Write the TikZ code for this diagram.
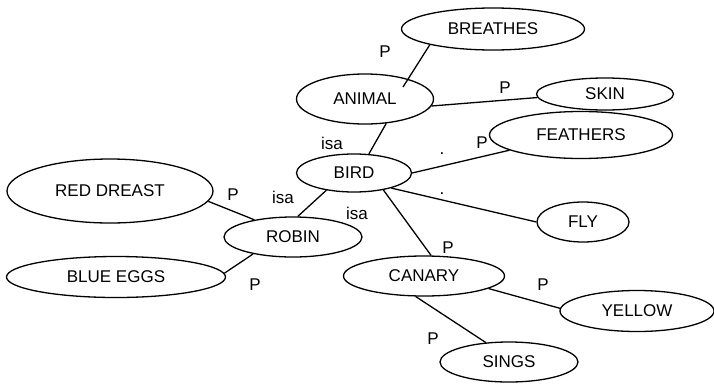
\documentclass[tikz,border=0pt]{standalone}
\usepackage{fontspec}
\setmainfont{Liberation Sans}
\usetikzlibrary{shapes.geometric, positioning}
\tikzset{
	concept/.style={draw, ellipse, line width=1.3pt, inner sep=0pt, font=\fontsize{17}{20}\selectfont},
	lbl/.style={inner sep=0pt, font=\fontsize{17}{20}\selectfont},
	% width and height of an ellipse
	sz/.style 2 args={minimum width=#1pt, minimum height=#2pt},
}

\begin{document}
\begin{tikzpicture}[x=1pt, y=-1pt]
	\useasboundingbox (0,0) rectangle (714,383);
	
	\node (breathes) [concept, sz={183}{42}] at (493,29) {BREATHES};
	\node (animal) [concept, sz={137}{50}] at (365,99) {ANIMAL};
	\node (skin) [concept, sz={137}{32}] at (605,94) {SKIN};
	\node (feathers) [concept, sz={183}{47}] at (581,135) {FEATHERS};
	\node (bird) [concept, sz={115}{38}] at (354,173) {BIRD};
	
	\node (redbreast) [concept, sz={206}{64}] at (110,191) {RED DREAST};
	\node (robin) [concept, sz={138}{40}] at (293,237) {ROBIN};
	\node (blueeggs) [concept, sz={219}{41}] at (116,277) {BLUE EGGS};
	
	\node (fly) [concept, sz={92}{40}] at (583,222) {FLY};
	\node (canary) [concept, sz={161}{40}] at (424,276) {CANARY};
	\node (yellow) [concept, sz={154}{41}] at (637,311) {YELLOW};
	\node (sings) [concept, sz={138}{40}] at (509,362) {SINGS};
	
	% labels on the links
	\node (p1) [lbl] at (385,52) {P};
	\node (p2) [lbl] at (505,88) {P};
	\node (isa1) [lbl] at (332,143) {isa};
	\node (p3) [lbl] at (482,143) {P};
	\node (dot1) [lbl] at (442,154) {.};
	\node (dot2) [lbl] at (442,194) {.};
	\node (p4) [lbl] at (233,195) {P};
	\node (isa2) [lbl] at (283,197) {isa};
	\node (isa3) [lbl] at (357,213) {isa};
	\node (p5) [lbl] at (255,285) {P};
	\node (p6) [lbl] at (448,248) {P};
	\node (p7) [lbl] at (543,285) {P};
	\node (p8) [lbl] at (433,339) {P};
	
	\begin{scope}[line width=1.3pt]
		\draw (breathes.194) -- ([shift={(38,-12)}]animal.center);
		\draw (animal.-6) -- (skin.183);
		\draw (animal.-49) -- (bird.52);
		
		\draw (bird.east) -- (feathers.192);
		\draw (bird.-22) -- (fly.west);
		\draw (bird.-30) -- (canary.71);
		\draw (bird.212) -- (robin.77);
		
		\draw (redbreast.-6) -- (robin.156);
		\draw (blueeggs.2) -- (robin.203);
		
		\draw (canary.-11) -- (yellow.178);
		\draw (canary.-112) -- (sings.140);
	\end{scope}
	
\end{tikzpicture}
\end{document}
